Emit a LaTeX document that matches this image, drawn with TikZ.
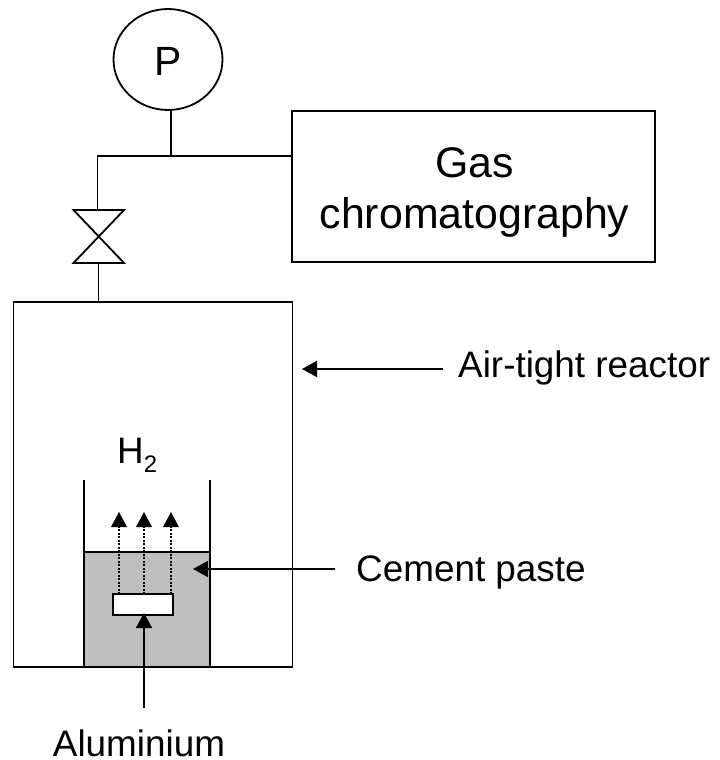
\documentclass[tikz,border=0pt]{standalone}
\usepackage{fontspec}
\setmainfont{Liberation Sans}
\usetikzlibrary{arrows.meta,shapes.geometric}
\tikzset{
  x=1bp,y=-1bp,
  line/.style={draw=black,line width=1.8bp},
  boxshape/.style={line,outer sep=0pt,inner sep=0pt,anchor=north west},
  tip/.style={-{Triangle[length=15bp,width=16bp]}},
  dotline/.style={draw=black,line width=2bp,dash pattern=on 2bp off 1.5bp},
  lbl/.style={font=\fontsize{37}{42}\selectfont,inner sep=0pt,text=black},
  biglbl/.style={font=\fontsize{43}{48}\selectfont,inner sep=0pt,text=black,anchor=base}
}
\begin{document}
\begin{tikzpicture}
\useasboundingbox (0,0) rectangle (720,760);
% reactor
\node[boxshape,minimum width=279bp,minimum height=365bp] (reactor) at (13.500,302) {};
% cement paste
\node[boxshape,fill=black!25,minimum width=126bp,minimum height=115bp] (paste) at (84,552) {};
\coordinate (walll) at (84,480);
\coordinate (wallr) at (210,480);
\draw[line] (walll) -- (paste.south west);
\draw[line] (wallr) -- (paste.south east);
% aluminium
\node[boxshape,fill=white,minimum width=60bp,minimum height=21bp] (alu) at (113,594) {};
% H2 arrows
\coordinate (a1) at (119,512);
\coordinate (a2) at (144,512);
\coordinate (a3) at (171,512);
\draw[dotline] (alu.north west -| a1) -- ([yshift=-15bp]a1);
\draw[dotline] (alu.north west -| a2) -- ([yshift=-15bp]a2);
\draw[dotline] (alu.north west -| a3) -- ([yshift=-15bp]a3);
\fill (a1) -- ++(-8,15) -- ++(16,0) -- cycle;
\fill (a2) -- ++(-8,15) -- ++(16,0) -- cycle;
\fill (a3) -- ++(-8,15) -- ++(16,0) -- cycle;
% labels
\node[lbl,anchor=base west] (h2) at (117,463) {H\raisebox{-9bp}{\fontsize{24}{28}\selectfont 2}};
\node[lbl,anchor=base west] (air) at (458,377) {Air-tight reactor};
\node[lbl,anchor=base west] (cem) at (356,581) {Cement paste};
\node[lbl,anchor=base] (alulbl) at (139,756) {Aluminium};
% pointers
\coordinate (airtip) at (302,369);
\coordinate (cemtip) at (193,569);
\coordinate (alutip) at (144,613);
\coordinate (airtail) at (443,369);
\coordinate (cemtail) at (335,569);
\coordinate (alutail) at (144,708);
\draw[line,tip] (airtail) -- (airtip);
\draw[line,tip] (cemtail) -- (cemtip);
\draw[line,tip] (alutail) -- (alutip);
% gauge
\node[line,ellipse,outer sep=0pt,inner sep=0pt,minimum width=109bp,minimum height=101bp] (gauge) at (168,59.500) {};
\node[biglbl,font=\fontsize{41}{46}\selectfont] (plabel) at (168,76) {P};
% chromatograph
\node[boxshape,minimum width=363bp,minimum height=151bp] (gc) at (292,111) {};
\node[biglbl] (gas) at (474.500,177) {Gas};
\node[biglbl] (chrom) at (474.500,228) {chromatography};
% valve
\coordinate (vtl) at (73.500,210);
\coordinate (vtr) at (124,210);
\coordinate (vbl) at (73.500,263);
\coordinate (vbr) at (124,263);
\draw[line,line join=miter] (vtl) -- (vtr) -- (vbl) -- (vbr) -- cycle;
\coordinate (vt) at (97.500,210);
\coordinate (vb) at (98.500,263);
\coordinate (joint) at (97.500,156);
\coordinate (tee) at (171,156);
\coordinate (gaugefoot) at (171,110);
\draw[line] (vt) -- (joint) -- (gc.west |- joint);
\draw[line] (gaugefoot) -- (tee);
\draw[line] (vb) -- (vb |- reactor.north);
\end{tikzpicture}
\end{document}
